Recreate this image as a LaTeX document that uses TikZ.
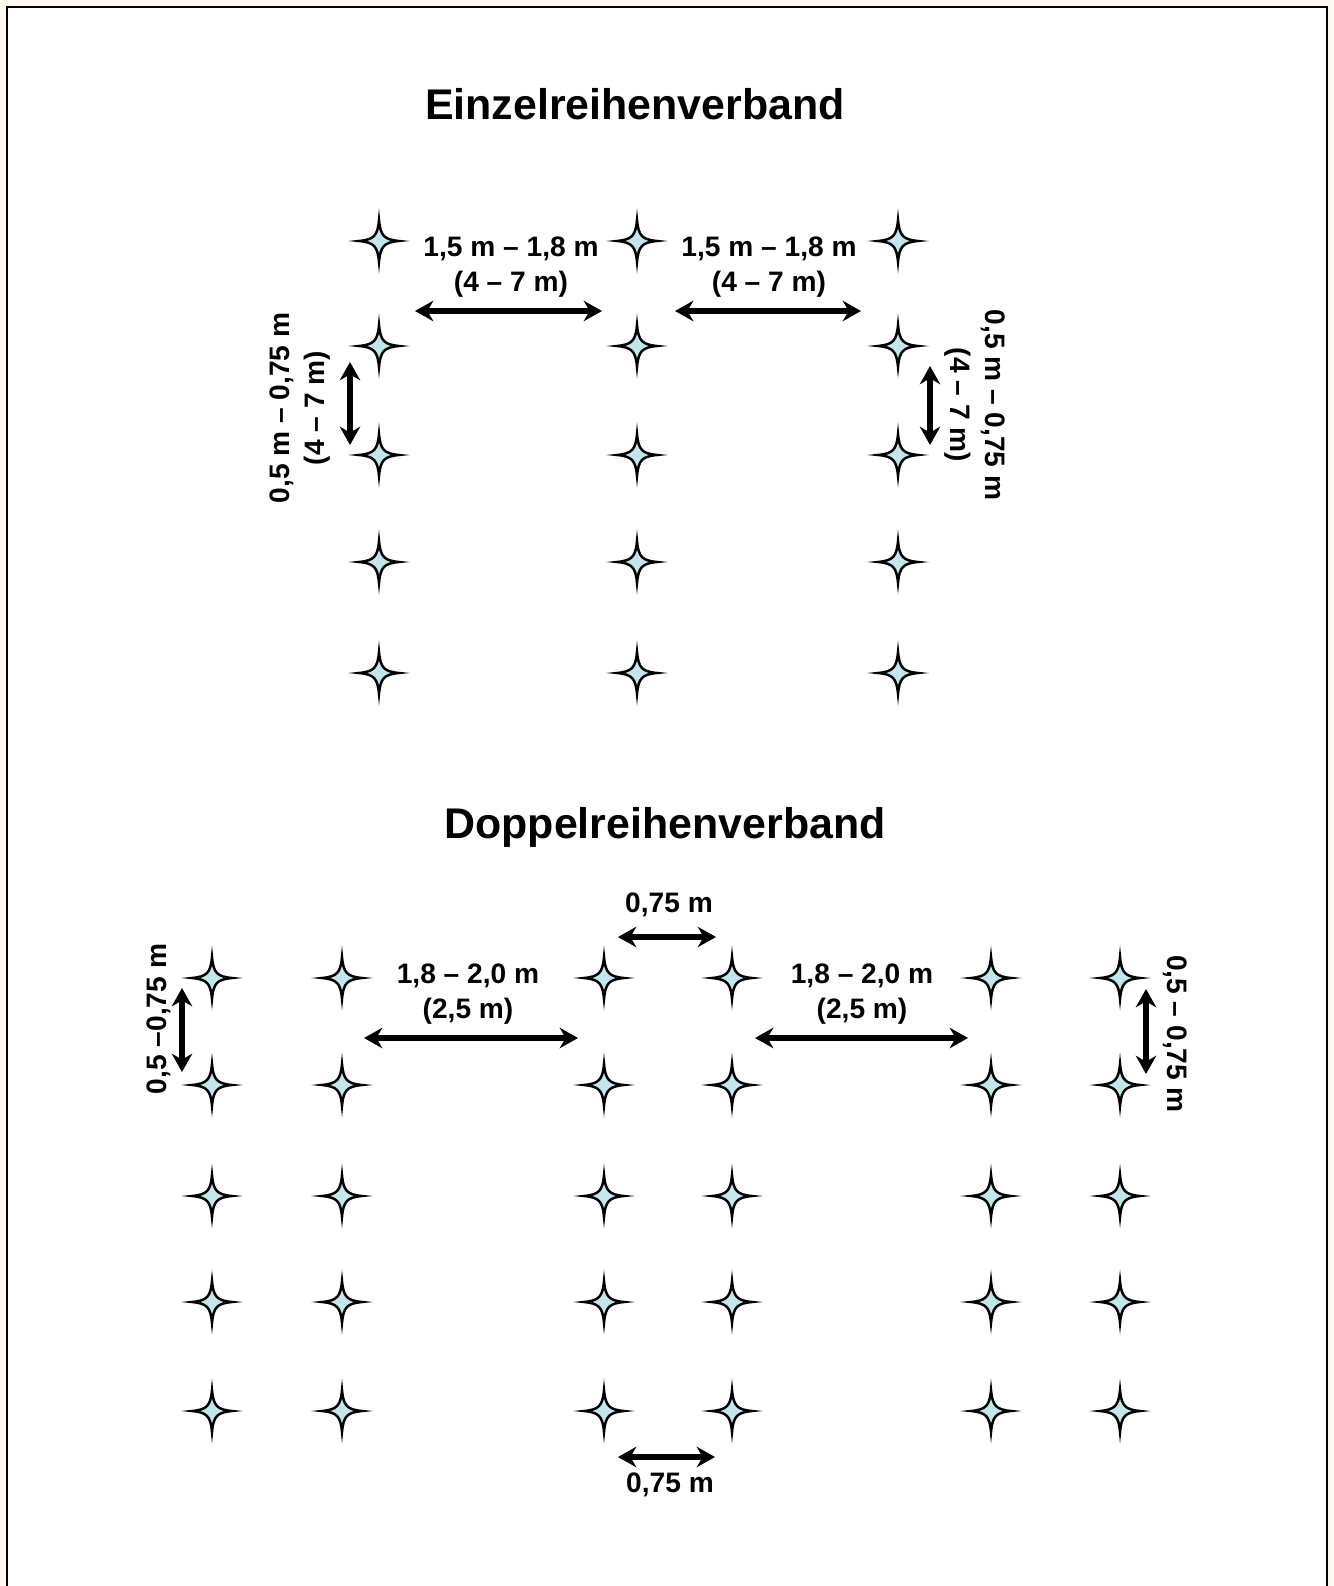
\documentclass[tikz,border=0pt]{standalone}
\usepackage{fontspec}
\setmainfont{Liberation Sans}
\usetikzlibrary{arrows.meta}
\definecolor{Rand}{HTML}{FFF8EE}
\definecolor{Blatt}{HTML}{C2E6EA}
\tikzstyle{Titel}=[font=\fontsize{12.2}{14}\selectfont\bfseries, inner sep=0pt]
\tikzstyle{Mass}=[font=\fontsize{8}{9.8}\selectfont\bfseries, align=center, inner sep=0pt]
\tikzstyle{MassPfeil}=[{Stealth[length=5.2pt,width=5.8pt]}-{Stealth[length=5.2pt,width=5.8pt]}, line width=1.7pt]
\tikzset{Pflanze/.pic={
  \filldraw[fill=Blatt, draw=black, line width=0.7pt]
    (20,0) .. controls (5,1.5) and (1.5,5) .. (0,21)
    .. controls (-1.5,5) and (-5,1.5) .. (-20,0)
    .. controls (-5,-1.5) and (-1.5,-5) .. (0,-21)
    .. controls (1.5,-5) and (5,-1.5) .. (20,0) -- cycle;
}}

\begin{document}
\begin{tikzpicture}[x=0.01cm, y=-0.01cm]
\useasboundingbox (0,0) rectangle (1333,1586);
\fill[Rand] (0,0) rectangle (1333,1586);
\fill[white] (7,7) rectangle (1327,1586);
\draw[line width=0.8pt] (7,1586) -- (7,7) -- (1327,7) -- (1327,1586);

% Einzelreihenverband
\node[Titel](T1) at (635,104) {Einzelreihenverband};
\foreach \x/\s in {379/a,637/b,898/c}
  \foreach \y/\z in {241/1,346/2,455/3,562/4,673/5}
    \pic at (\x,\y) {Pflanze};

\node[Mass](M1) at (511,267) {1,5 m -- 1,8 m\\(4 -- 7 m)};
\node[Mass](M2) at (769,267) {1,5 m -- 1,8 m\\(4 -- 7 m)};
\node[Mass, rotate=90](M3) at (300,408) {0,5 m -- 0,75 m\\(4 -- 7 m)};
\node[Mass, rotate=-90](M4) at (975,405) {0,5 m -- 0,75 m\\(4 -- 7 m)};

\coordinate (P1a) at (415,311); \coordinate (P1b) at (602,311);
\coordinate (P2a) at (675,311); \coordinate (P2b) at (861,311);
\coordinate (P3a) at (350,362); \coordinate (P3b) at (350,445);
\coordinate (P4a) at (930,366); \coordinate (P4b) at (930,445);
\draw[MassPfeil](P1a) -- (P1b);
\draw[MassPfeil](P2a) -- (P2b);
\draw[MassPfeil](P3a) -- (P3b);
\draw[MassPfeil](P4a) -- (P4b);

% Doppelreihenverband
\node[Titel](T2) at (665,827) {Doppelreihenverband};
\foreach \x in {212,342,604,732,991,1120}
  \foreach \y in {978,1085,1196,1302,1411}
    \pic at (\x,\y) {Pflanze};

\node[Mass](N1) at (669,905) {0,75 m};
\node[Mass](N2) at (670,1485) {0,75 m};
\node[Mass](N3) at (468,994) {1,8 -- 2,0 m\\(2,5 m)};
\node[Mass](N4) at (862,994) {1,8 -- 2,0 m\\(2,5 m)};
\node[Mass, rotate=90](N5) at (159,1019) {0,5 --0,75 m};
\node[Mass, rotate=-90](N6) at (1175,1034) {0,5 -- 0,75 m};

\coordinate (Q1a) at (618,937); \coordinate (Q1b) at (716,937);
\coordinate (Q2a) at (618,1457); \coordinate (Q2b) at (715,1457);
\coordinate (Q3a) at (364,1038); \coordinate (Q3b) at (578,1038);
\coordinate (Q4a) at (755,1038); \coordinate (Q4b) at (968,1038);
\coordinate (Q5a) at (182,988); \coordinate (Q5b) at (182,1072);
\coordinate (Q6a) at (1146,989); \coordinate (Q6b) at (1146,1074);
\draw[MassPfeil](Q1a) -- (Q1b);
\draw[MassPfeil](Q2a) -- (Q2b);
\draw[MassPfeil](Q3a) -- (Q3b);
\draw[MassPfeil](Q4a) -- (Q4b);
\draw[MassPfeil](Q5a) -- (Q5b);
\draw[MassPfeil](Q6a) -- (Q6b);
\end{tikzpicture}
\end{document}
